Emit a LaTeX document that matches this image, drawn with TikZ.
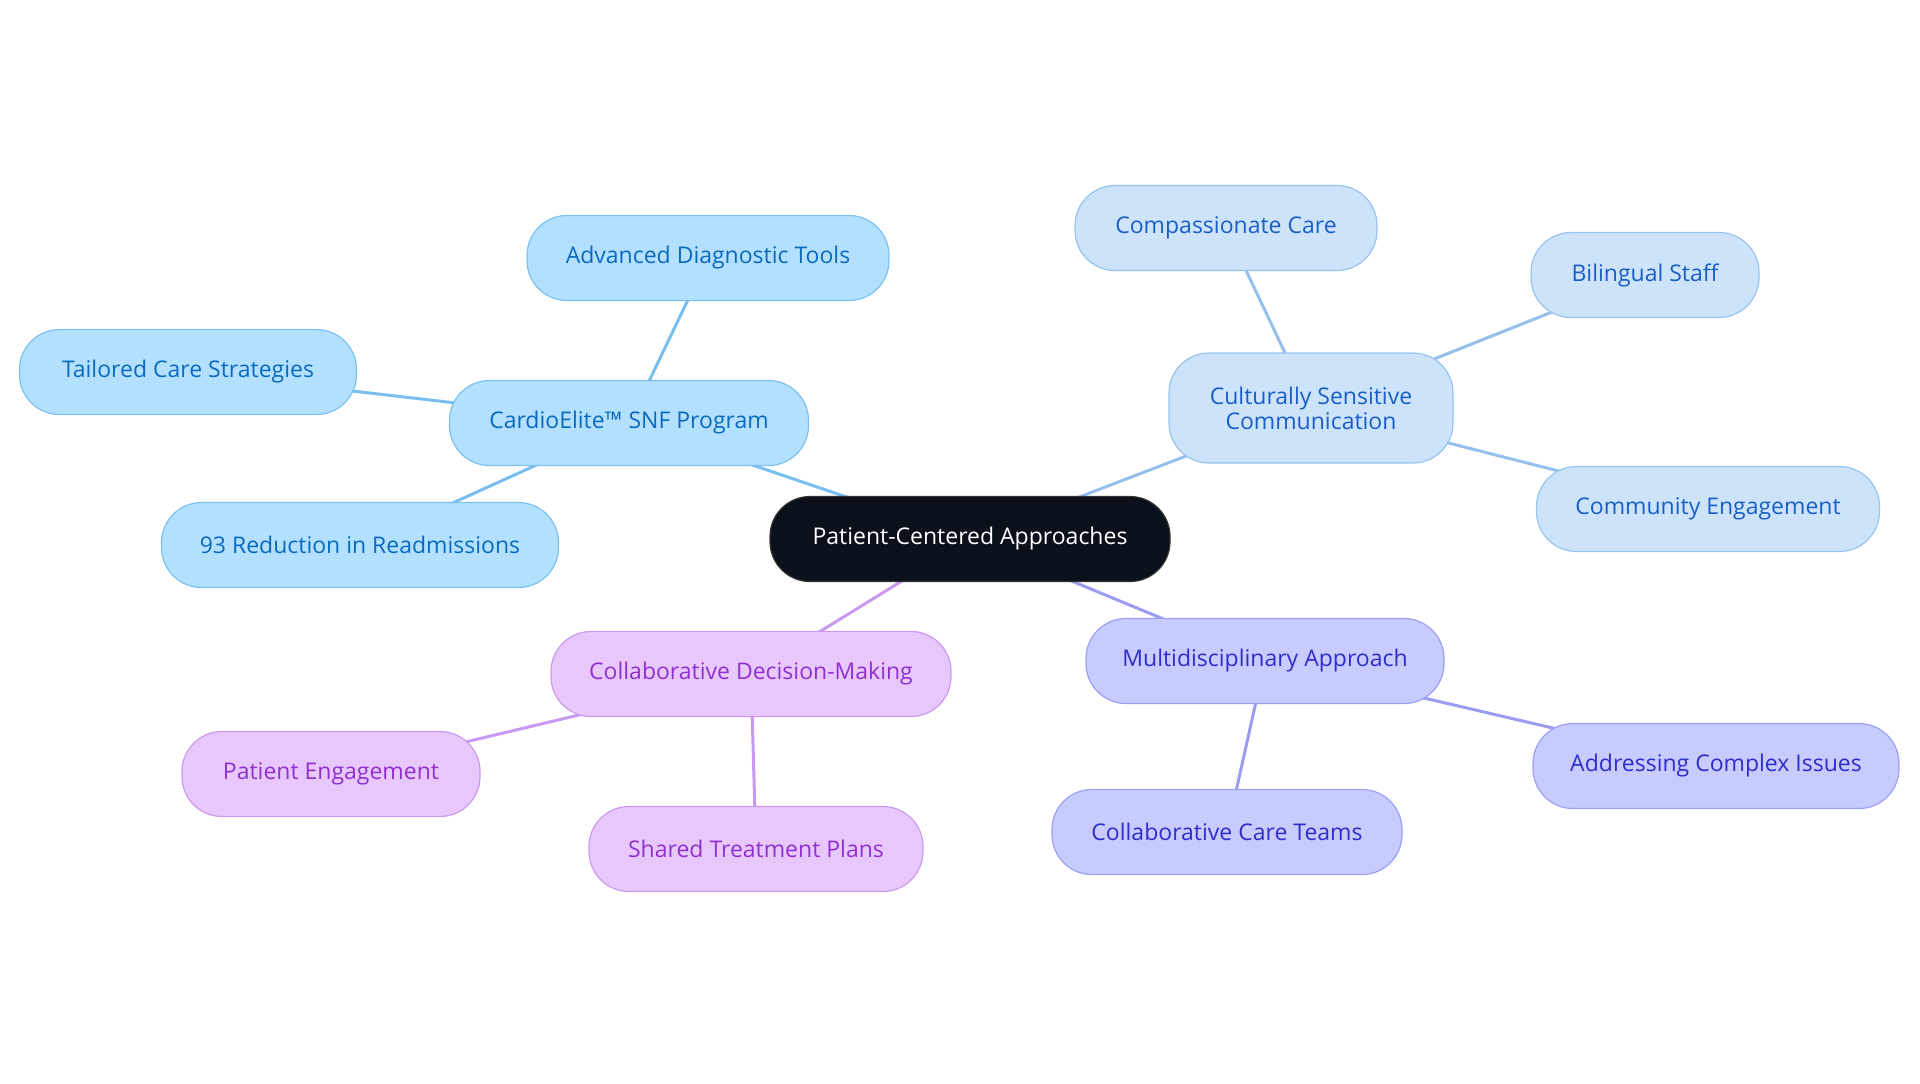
\documentclass[tikz,border=0pt]{standalone}
\usepackage{fontspec}
\setmainfont{Open Sans}
\usetikzlibrary{backgrounds}
\definecolor{rootfill}{HTML}{0B111B}
\definecolor{cafill}{HTML}{B3E0FF}
\definecolor{cadraw}{HTML}{7CC2F0}
\definecolor{catext}{HTML}{0A6AC0}
\definecolor{caline}{HTML}{78BEEE}
\definecolor{csfill}{HTML}{CCE3FA}
\definecolor{csdraw}{HTML}{99C4F0}
\definecolor{cstext}{HTML}{1A5FC8}
\definecolor{csline}{HTML}{95C0EE}
\definecolor{mdfill}{HTML}{C8CBFD}
\definecolor{mddraw}{HTML}{9B9FF5}
\definecolor{mdtext}{HTML}{2E2ECC}
\definecolor{mdline}{HTML}{9A9CF2}
\definecolor{cdfill}{HTML}{E8C8FC}
\definecolor{cddraw}{HTML}{CC99F0}
\definecolor{cdtext}{HTML}{9030D0}
\definecolor{cdline}{HTML}{C899F0}
\tikzset{
  pill/.style={draw, rectangle, rounded corners=20pt, align=center, font=\fontsize{11.5}{12.5}\selectfont, minimum height=42.5pt, inner sep=3pt, line width=0.6pt},
  rootbox/.style={pill, fill=rootfill, draw=black!80, text=white},
  cabox/.style={pill, fill=cafill, draw=cadraw, text=catext},
  csbox/.style={pill, fill=csfill, draw=csdraw, text=cstext},
  mdbox/.style={pill, fill=mdfill, draw=mddraw, text=mdtext},
  cdbox/.style={pill, fill=cdfill, draw=cddraw, text=cdtext},
  link/.style={line width=1.5pt},
}

\begin{document}
\begin{tikzpicture}[x=0.5pt,y=-0.5pt]
\useasboundingbox (0,0) rectangle (1920,1083);
\node[rootbox, minimum width=200pt] (root) at (970,539) {Patient-Centered Approaches};
\node[cabox, minimum width=179.5pt] (ca) at (629,423) {CardioElite™ SNF Program};
\node[cabox, minimum width=181pt] (adt) at (708,258) {Advanced Diagnostic Tools};
\node[cabox, minimum width=168.5pt] (tcs) at (188,372) {Tailored Care Strategies};
\node[cabox, minimum width=198.5pt] (rr) at (360,545) {93 Reduction in Readmissions};
\node[csbox, minimum width=142pt, minimum height=55pt] (cs) at (1311,408) {Culturally Sensitive\\Communication};
\node[csbox, minimum width=151pt] (cc) at (1226,228) {Compassionate Care};
\node[csbox, minimum width=114pt] (bs) at (1645,275) {Bilingual Staff};
\node[csbox, minimum width=171.5pt] (ce) at (1708,509) {Community Engagement};
\node[mdbox, minimum width=179pt] (md) at (1265,661) {Multidisciplinary Approach};
\node[mdbox, minimum width=175pt] (cct) at (1227,832) {Collaborative Care Teams};
\node[mdbox, minimum width=183pt] (aci) at (1716,766) {Addressing Complex Issues};
\node[cdbox, minimum width=200pt] (cd) at (751,674) {Collaborative Decision-Making};
\node[cdbox, minimum width=149pt] (pe) at (331,774) {Patient Engagement};
\node[cdbox, minimum width=167pt] (stp) at (756,849) {Shared Treatment Plans};
\begin{scope}[on background layer]
\draw[link, caline] (root.center) -- (ca.center);
\draw[link, caline] (ca.center) -- (adt.center);
\draw[link, caline] (ca.center) -- (tcs.center);
\draw[link, caline] (ca.center) -- (rr.center);
\draw[link, csline] (root.center) -- (cs.center);
\draw[link, csline] (cs.center) -- (cc.center);
\draw[link, csline] (cs.center) -- (bs.center);
\draw[link, csline] (cs.center) -- (ce.center);
\draw[link, mdline] (root.center) -- (md.center);
\draw[link, mdline] (md.center) -- (cct.center);
\draw[link, mdline] (md.center) -- (aci.center);
\draw[link, cdline] (root.center) -- (cd.center);
\draw[link, cdline] (cd.center) -- (pe.center);
\draw[link, cdline] (cd.center) -- (stp.center);
\end{scope}
\end{tikzpicture}
\end{document}
